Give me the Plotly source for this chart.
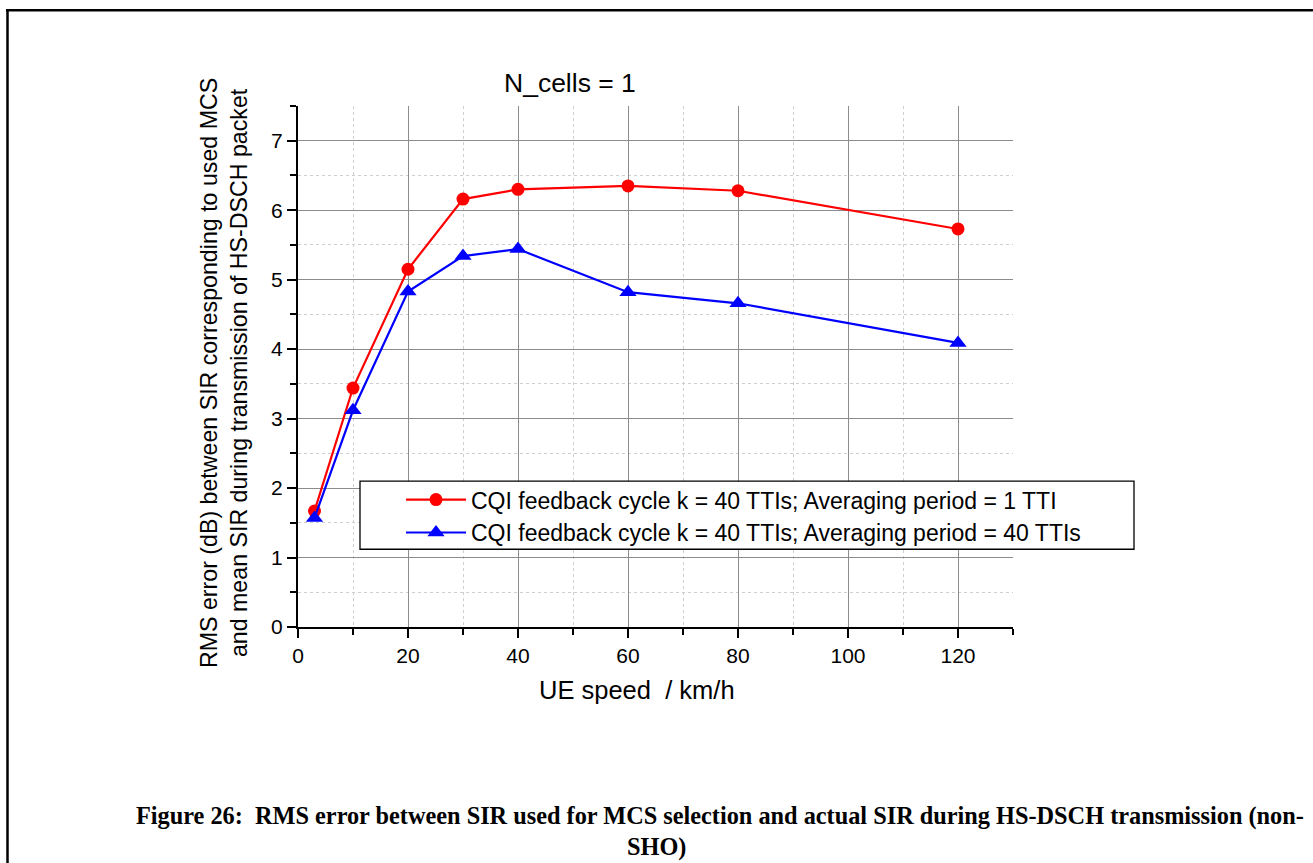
import plotly.graph_objects as go

# ---- data ----
speed_kmh = [3, 10, 20, 30, 40, 60, 80, 120]
rms_avg_1tti = [1.67, 3.44, 5.15, 6.16, 6.30, 6.35, 6.28, 5.73]
rms_avg_40tti = [1.57, 3.12, 4.83, 5.34, 5.44, 4.82, 4.66, 4.09]
series_names = [
    "CQI feedback cycle k = 40 TTIs; Averaging period = 1 TTI",
    "CQI feedback cycle k = 40 TTIs; Averaging period = 40 TTIs",
]
x_ticks = [0, 20, 40, 60, 80, 100, 120]
y_ticks = [0, 1, 2, 3, 4, 5, 6, 7]

W, H = 1313, 863
L, R, T, B = 298, 1013, 106.2, 626.7


def px(xp):
    return (xp - L) / (R - L)


def py(yp):
    return (B - yp) / (B - T)


fig = go.Figure()
fig.add_trace(go.Scatter(
    x=speed_kmh, y=rms_avg_1tti, name=series_names[0], mode="lines+markers",
    line=dict(color="#ff0000", width=2.2),
    marker=dict(symbol="circle", size=13, color="#ff0000"),
))
fig.add_trace(go.Scatter(
    x=speed_kmh, y=rms_avg_40tti, name=series_names[1], mode="lines+markers",
    line=dict(color="#0000ff", width=2.2),
    marker=dict(symbol="triangle-up", size=15, color="#0000ff"),
))

axis_font = dict(family="Liberation Sans, Arial", size=21, color="black")
fig.update_xaxes(
    range=[0, 130], tickvals=x_ticks, ticktext=[str(v) for v in x_ticks],
    showline=True, linecolor="black", linewidth=2,
    ticks="outside", ticklen=9, tickwidth=2, tickcolor="black",
    tickfont=axis_font, showgrid=True, gridcolor="#8c8c8c", gridwidth=1,
    zeroline=False, mirror=False,
    minor=dict(dtick=10, tick0=0, ticks="outside", ticklen=6, tickwidth=2,
               tickcolor="black", showgrid=True, gridcolor="#cfcfcf",
               griddash="dot", gridwidth=1),
)
fig.update_yaxes(
    range=[0, 7.5], tickvals=y_ticks, ticktext=[str(v) for v in y_ticks],
    showline=True, linecolor="black", linewidth=2,
    ticks="outside", ticklen=9, tickwidth=2, tickcolor="black",
    tickfont=axis_font, showgrid=True, gridcolor="#8c8c8c", gridwidth=1,
    zeroline=False, mirror=False,
    minor=dict(dtick=0.5, tick0=0, ticks="outside", ticklen=6, tickwidth=2,
               tickcolor="black", showgrid=True, gridcolor="#cfcfcf",
               griddash="dot", gridwidth=1),
)

sans = "Liberation Sans, Arial"
serif = "Liberation Serif, Times New Roman"
annotations = [
    dict(text="N_cells = 1", x=px(570), y=py(83), xref="paper", yref="paper",
         showarrow=False, xanchor="center", yanchor="middle",
         font=dict(family=sans, size=26.5, color="black")),
    dict(text="RMS error (dB) between SIR corresponding to used MCS<br>and mean SIR during transmission of HS-DSCH packet",
         x=px(224), y=py(373), xref="paper", yref="paper", textangle=-90,
         showarrow=False, xanchor="center", yanchor="middle",
         font=dict(family=sans, size=23.2, color="black")),
    dict(text="UE speed  / km/h", x=px(637), y=py(690), xref="paper", yref="paper",
         showarrow=False, xanchor="center", yanchor="middle",
         font=dict(family=sans, size=25.5, color="black")),
    dict(text="<b>Figure 26:  RMS error between SIR used for MCS selection and actual SIR during HS-DSCH transmission (non-</b>",
         x=px(720), y=py(816), xref="paper", yref="paper",
         showarrow=False, xanchor="center", yanchor="middle",
         font=dict(family=serif, size=24.3, color="black")),
    dict(text="<b>SHO)</b>", x=px(656), y=py(846), xref="paper", yref="paper",
         showarrow=False, xanchor="center", yanchor="middle",
         font=dict(family=serif, size=24.3, color="black")),
]

shapes = [
    # outer frame (top and left edges visible)
    dict(type="line", xref="paper", yref="paper", x0=px(6), x1=px(1325),
         y0=py(10.5), y1=py(10.5), line=dict(color="black", width=2.5)),
    dict(type="line", xref="paper", yref="paper", x0=px(7.5), x1=px(7.5),
         y0=py(9.5), y1=py(880), line=dict(color="black", width=2.5)),
    # legend box
    dict(type="rect", xref="paper", yref="paper", x0=px(360), x1=px(1134),
         y0=py(481), y1=py(549), line=dict(color="black", width=1.3),
         fillcolor="white", layer="above"),
]

fig.update_layout(
    width=W, height=H,
    margin=dict(l=L, r=W - R, t=T, b=H - B, pad=0),
    paper_bgcolor="white", plot_bgcolor="white",
    showlegend=True,
    legend=dict(x=px(401), y=py(478), xanchor="left", yanchor="top",
                bgcolor="rgba(0,0,0,0)", borderwidth=0,
                font=dict(family=sans, size=23, color="black"),
                itemwidth=60, tracegroupgap=0),
    annotations=annotations, shapes=shapes,
)

fig.write_html("out.html",
               config={"displayModeBar": False},
               post_script="document.body.style.margin='0';document.body.style.padding='0';")
